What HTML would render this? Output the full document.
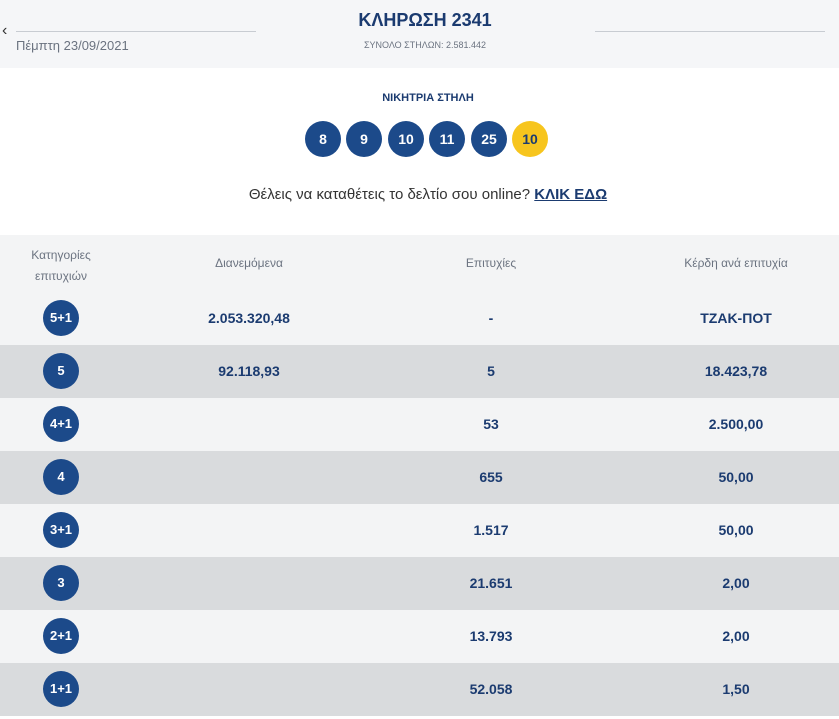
<!DOCTYPE html>
<html><head><meta charset="utf-8"><style>
body{margin:0;width:839px;height:719px;overflow:hidden;background:#fff;font-family:"Liberation Sans",sans-serif;color:#1b3b70;position:relative}
.a{position:absolute}
.top{left:0;top:0;width:839px;height:68px;background:#f5f6f8}
.line{height:1px;background:#c8ccd2}
.ball{position:absolute;width:36px;height:36px;border-radius:50%;background:#1c4a8a;color:#fff;font-weight:bold;font-size:14px;text-align:center;line-height:36px;top:121px}
.row{position:absolute;left:0;width:839px;height:53px}
.row .c{position:absolute;left:43px;top:8px;width:36px;height:36px;border-radius:50%;background:#1c4a8a;color:#fff;font-weight:bold;font-size:13px;text-align:center;line-height:36px}
.row span{position:absolute;top:18px;font-weight:bold;font-size:14px;transform:translateX(-50%);white-space:nowrap}
.h{position:absolute;font-size:12px;color:#6b7380;text-align:center;transform:translateX(-50%);white-space:nowrap}
</style></head><body>
<div class="a top"></div>
<div class="a" style="left:2px;top:22px;font-size:16px;color:#333">&lsaquo;</div>
<div class="a line" style="left:16px;top:31px;width:240px"></div>
<div class="a line" style="left:595px;top:31px;width:230px"></div>
<div class="a" style="left:16px;top:38px;font-size:13px;color:#6b7380">Πέμπτη 23/09/2021</div>
<div class="a" style="left:0;width:850px;text-align:center;top:10px;font-size:18px;font-weight:bold">ΚΛΗΡΩΣΗ 2341</div>
<div class="a" style="left:0;width:850px;text-align:center;top:40px;font-size:9px;color:#6b7380">ΣΥΝΟΛΟ ΣΤΗΛΩΝ: 2.581.442</div>
<div class="a" style="left:0;width:856px;text-align:center;top:92px;font-size:11px;font-weight:bold">ΝΙΚΗΤΡΙΑ ΣΤΗΛΗ</div>
<div class="ball" style="left:305px">8</div>
<div class="ball" style="left:346px">9</div>
<div class="ball" style="left:388px">10</div>
<div class="ball" style="left:429px">11</div>
<div class="ball" style="left:471px">25</div>
<div class="ball" style="left:512px;background:#f7c51e;color:#1b3b70">10</div>
<div class="a" style="left:0;width:856px;text-align:center;top:186px;font-size:15px;color:#333">Θέλεις να καταθέτεις το δελτίο σου online? <b style="color:#1b3b70;text-decoration:underline">ΚΛΙΚ ΕΔΩ</b></div>
<div class="a" style="left:0;top:235px;width:839px;height:57px;background:#f3f4f5"></div>
<div class="h" style="left:61px;top:245px;line-height:21px">Κατηγορίες<br>επιτυχιών</div>
<div class="h" style="left:249px;top:256px">Διανεμόμενα</div>
<div class="h" style="left:491px;top:256px">Επιτυχίες</div>
<div class="h" style="left:736px;top:256px">Κέρδη ανά επιτυχία</div>

<div class="row" style="top:292px;background:#f3f4f5"><div class="c">5+1</div><span style="left:249px">2.053.320,48</span><span style="left:491px">-</span><span style="left:736px">ΤΖΑΚ-ΠΟΤ</span></div>
<div class="row" style="top:345px;background:#d9dbdd"><div class="c">5</div><span style="left:249px">92.118,93</span><span style="left:491px">5</span><span style="left:736px">18.423,78</span></div>
<div class="row" style="top:398px;background:#f3f4f5"><div class="c">4+1</div><span style="left:491px">53</span><span style="left:736px">2.500,00</span></div>
<div class="row" style="top:451px;background:#d9dbdd"><div class="c">4</div><span style="left:491px">655</span><span style="left:736px">50,00</span></div>
<div class="row" style="top:504px;background:#f3f4f5"><div class="c">3+1</div><span style="left:491px">1.517</span><span style="left:736px">50,00</span></div>
<div class="row" style="top:557px;background:#d9dbdd"><div class="c">3</div><span style="left:491px">21.651</span><span style="left:736px">2,00</span></div>
<div class="row" style="top:610px;background:#f3f4f5"><div class="c">2+1</div><span style="left:491px">13.793</span><span style="left:736px">2,00</span></div>
<div class="row" style="top:663px;background:#d9dbdd"><div class="c">1+1</div><span style="left:491px">52.058</span><span style="left:736px">1,50</span></div>
</body></html>
